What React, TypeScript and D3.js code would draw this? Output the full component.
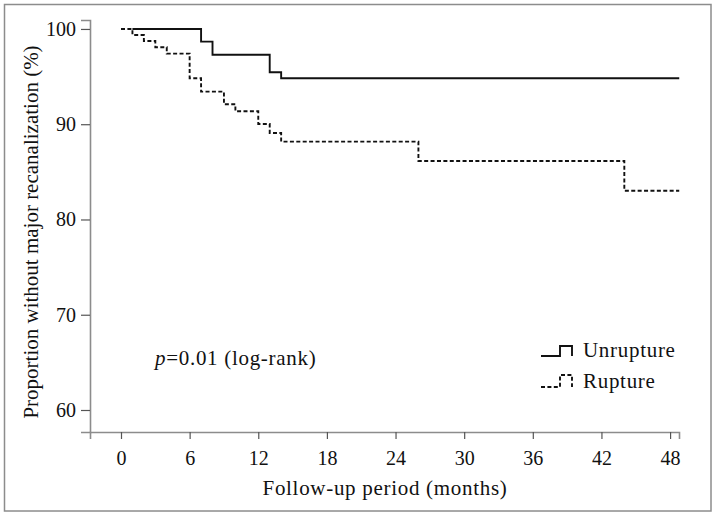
import React, { useRef, useEffect } from 'react';
import * as d3 from 'd3';

// Kaplan-Meier steps
const unruptureTimes = [1, 7, 8, 13, 14];
const unruptureSurv = [100, 98.67, 97.3, 95.45, 94.82];
const ruptureTimes = [0, 1, 2, 3, 4, 6, 7, 9, 10, 12, 13, 14, 26, 44];
const ruptureSurv = [100, 99.37, 98.74, 98.08, 97.41, 94.82, 93.42, 92.09, 91.36, 90.03, 89.08, 88.17, 86.14, 83.02];
const followUpEnd = 48.8;

const xTicks = [0, 6, 12, 18, 24, 30, 36, 42, 48];
const yTicks = [60, 70, 80, 90, 100];
const seriesNames = ['Unrupture', 'Rupture'];

const W = 717;
const H = 517;
const FONT = '"Liberation Serif", "Times New Roman", serif';
const FS = 20;
const FS_TEXT = 21;
const SPACING = 0.7;

type Pt = { t: number; s: number };

const toSteps = (times: number[], surv: number[]): Pt[] => {
  const pts = times.map((t, i) => ({ t, s: surv[i] }));
  pts.push({ t: followUpEnd, s: surv[surv.length - 1] });
  return pts;
};

const App = () => {
  const ref = useRef<SVGSVGElement | null>(null);

  useEffect(() => {
    if (!ref.current) return;
    const svg = d3.select(ref.current);
    svg.selectAll('*').remove();

    const left = 90;
    const right = 679;
    const top = 20;
    const bottom = 432;

    const x = d3.scaleLinear().domain([-2.71, 48.78]).range([left, right]);
    const y = d3.scaleLinear().domain([57.69, 100.94]).range([bottom, top]);

    // outer frame
    svg
      .append('rect')
      .attr('x', 4.5)
      .attr('y', 4.5)
      .attr('width', 706.5)
      .attr('height', 506.5)
      .attr('fill', 'white')
      .attr('stroke', '#8c8c8c')
      .attr('stroke-width', 1.5);

    const xAxis = d3.axisBottom(x).tickValues(xTicks).tickSizeOuter(0).tickSize(7).tickPadding(12);
    const yAxis = d3.axisLeft(y).tickValues(yTicks).tickSizeOuter(0).tickSize(9).tickPadding(5);

    const gx = svg.append('g').attr('transform', `translate(0,${bottom})`).call(xAxis);
    const gy = svg.append('g').attr('transform', `translate(${left},0)`).call(yAxis);

    [gx, gy].forEach((g) => {
      g.attr('font-family', FONT).attr('font-size', FS);
      g.select('.domain').attr('stroke', '#8c8c8c').attr('stroke-width', 1.6);
      g.selectAll('.tick line').attr('stroke', '#555').attr('stroke-width', 1.2);
      g.selectAll('.tick text').attr('fill', '#111');
    });

    const line = d3
      .line<Pt>()
      .curve(d3.curveStepAfter)
      .x((d) => x(d.t))
      .y((d) => y(d.s));

    svg
      .append('path')
      .datum(toSteps(unruptureTimes, unruptureSurv))
      .attr('fill', 'none')
      .attr('stroke', '#111')
      .attr('stroke-width', 1.9)
      .attr('d', line);

    svg
      .append('path')
      .datum(toSteps(ruptureTimes, ruptureSurv))
      .attr('fill', 'none')
      .attr('stroke', '#111')
      .attr('stroke-width', 1.9)
      .attr('stroke-dasharray', '4 2.4')
      .attr('d', line);

    // axis titles
    svg
      .append('text')
      .attr('x', 385)
      .attr('y', 495)
      .attr('text-anchor', 'middle')
      .attr('font-family', FONT)
      .attr('font-size', FS_TEXT)
      .attr('letter-spacing', SPACING)
      .attr('fill', '#111')
      .text('Follow-up period (months)');

    svg
      .append('text')
      .attr('transform', 'translate(38,232) rotate(-90)')
      .attr('text-anchor', 'middle')
      .attr('font-family', FONT)
      .attr('font-size', FS_TEXT)
      .attr('fill', '#111')
      .text('Proportion without major recanalization (%)');

    // p-value note
    const note = svg
      .append('text')
      .attr('x', 155)
      .attr('y', 365)
      .attr('font-family', FONT)
      .attr('font-size', FS_TEXT)
      .attr('letter-spacing', SPACING)
      .attr('fill', '#111');
    note.append('tspan').attr('font-style', 'italic').text('p');
    note.append('tspan').text('=0.01 (log-rank)');

    // legend
    const legend = svg.append('g').attr('transform', 'translate(541,0)');
    seriesNames.forEach((name, i) => {
      const base = 356 + i * 31;
      const h = i === 0 ? 10 : 12;
      legend
        .append('path')
        .attr('d', `M0,${base} H19 V${base - h} H31 V${base}`)
        .attr('fill', 'none')
        .attr('stroke', '#111')
        .attr('stroke-width', 1.9)
        .attr('stroke-dasharray', i === 0 ? null : '4 2.4');
      legend
        .append('text')
        .attr('x', 42)
        .attr('y', base + 1)
        .attr('font-family', FONT)
        .attr('font-size', FS_TEXT)
        .attr('letter-spacing', SPACING)
        .attr('fill', '#111')
        .text(name);
    });
  }, []);

  return (
    <svg
      ref={ref}
      width={W}
      height={H}
      style={{ position: 'absolute', left: 0, top: 0, display: 'block' }}
    />
  );
};

export default App;
